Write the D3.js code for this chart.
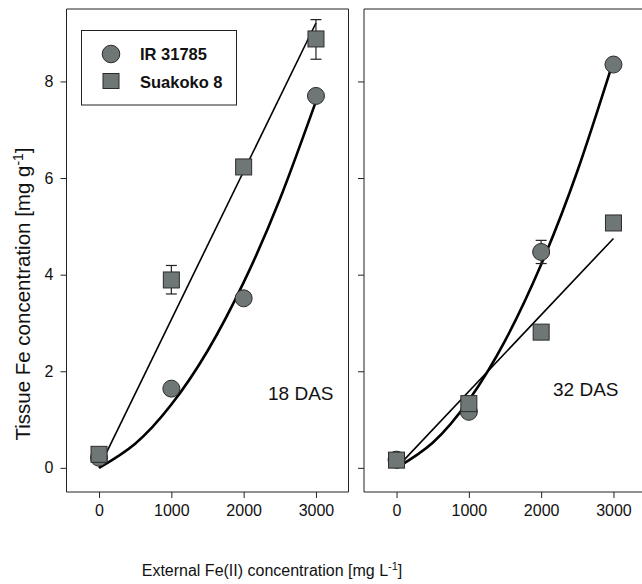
<!DOCTYPE html>
<meta charset="utf-8">
<style>
    body { margin: 0; background: #fff; }
    .container { width: 642px; height: 584px; }
    text { font-family: "Liberation Sans", Arial, sans-serif; fill: #111; }
</style>
<body>
<div class="container"></div>
<script src="https://cdn.jsdelivr.net/npm/d3@7"></script>
<script>

// x positions of the measurements (mg L-1)
const doses = [0, 1000, 2000, 3000];

// 18 DAS
const ir18 = [0.21, 1.64, 3.51, 7.70];
const su18 = [0.28, 3.89, 6.23, 8.88];
const su18Err = [null, [3.60, 4.19], null, [8.46, 9.28]];

// 32 DAS
const ir32 = [0.17, 1.16, 4.47, 8.35];
const ir32Err = [null, null, [4.23, 4.71], null];
const su32 = [0.16, 1.33, 2.81, 5.07];
const su32Err = [null, null, null, null];

// fitted curves
const fitX = [0, 500, 1000, 1500, 2000, 2500, 3000];
const irFit18 = [0, 0.50, 1.31, 2.42, 3.84, 5.56, 7.59];
const irFit32 = [0, 0.52, 1.40, 2.63, 4.21, 6.14, 8.43];
const suFit18 = [0, 9.21];   // straight line, x = 0 and 3000
const suFit32 = [0, 4.75];

const xTicks = [0, 1000, 2000, 3000];
const yTicks = [0, 2, 4, 6, 8];

const width = 642, height = 584;
const markFill = '#6e7676', markStroke = '#2b2b2b';

const svg = d3.select('.container')
    .append('svg')
    .attr('width', width)
    .attr('height', height);

const y = d3.scaleLinear().domain([-0.5, 9.5]).range([492, 9]);

const panels = [
    { left: 66.5, label: '18 DAS', labelX: 268, labelY: 400, ir: ir18, su: su18,
      irErr: [null, null, null, null], suErr: su18Err, irFit: irFit18, suFit: suFit18, yLabels: true, rightFrame: true },
    { left: 364, label: '32 DAS', labelX: 553, labelY: 396, ir: ir32, su: su32,
      irErr: ir32Err, suErr: su32Err, irFit: irFit32, suFit: suFit32, yLabels: false, rightFrame: false }
];

panels.forEach(p => {
    const x = d3.scaleLinear().domain([-450, 3450]).range([p.left, p.left + 282]);
    const g = svg.append('g');

    // x axis
    const xAxis = g.append('g')
        .attr('transform', `translate(0,${y.range()[0]})`)
        .call(d3.axisBottom(x).tickValues(xTicks).tickFormat(d3.format('d'))
              .tickSize(6).tickPadding(7).tickSizeOuter(0));
    xAxis.select('.domain').remove();
    xAxis.selectAll('text').style('font-size', '16px').attr('fill', '#111');
    xAxis.selectAll('line').attr('stroke', '#222');

    // y axis
    const yAxis = g.append('g')
        .attr('transform', `translate(${p.left},0)`)
        .call(d3.axisLeft(y).tickValues(yTicks).tickSize(6).tickPadding(7)
              .tickFormat(p.yLabels ? d3.format('d') : ''));
    yAxis.select('.domain').remove();
    yAxis.selectAll('text').style('font-size', '16px').attr('fill', '#111');
    yAxis.selectAll('line').attr('stroke', '#222');

    // frame
    const x0 = p.left, x1 = p.left + 282, yt = y.range()[1], yb = y.range()[0];
    g.append('path')
        .attr('d', p.rightFrame
            ? `M${x0},${yt}H${x1}V${yb}H${x0}Z`
            : `M${x1},${yt}H${x0}V${yb}H${x1}`)
        .attr('fill', 'none')
        .attr('stroke', '#222')
        .attr('stroke-width', 1);

    // fitted lines
    g.append('path')
        .datum([[0, p.suFit[0]], [3000, p.suFit[1]]])
        .attr('d', d3.line().x(d => x(d[0])).y(d => y(d[1])))
        .attr('fill', 'none')
        .attr('stroke', '#000')
        .attr('stroke-width', 1.6);

    g.append('path')
        .datum(fitX.map((v, i) => [v, p.irFit[i]]))
        .attr('d', d3.line().x(d => x(d[0])).y(d => y(d[1])).curve(d3.curveNatural))
        .attr('fill', 'none')
        .attr('stroke', '#000')
        .attr('stroke-width', 2.6);

    // error bars
    const drawErr = errs => {
        errs.forEach((e, i) => {
            if (!e) return;
            const cx = x(doses[i]);
            const eg = g.append('g').attr('stroke', '#222').attr('stroke-width', 1.2);
            eg.append('line').attr('x1', cx).attr('x2', cx).attr('y1', y(e[0])).attr('y2', y(e[1]));
            e.forEach(v => eg.append('line').attr('x1', cx - 5.5).attr('x2', cx + 5.5).attr('y1', y(v)).attr('y2', y(v)));
        });
    };
    drawErr(p.irErr);
    drawErr(p.suErr);

    // markers
    g.selectAll('circle.ir')
        .data(p.ir)
        .enter()
        .append('circle')
        .attr('class', 'ir')
        .attr('cx', (d, i) => x(doses[i]))
        .attr('cy', d => y(d))
        .attr('r', 8.5)
        .attr('fill', markFill)
        .attr('stroke', markStroke)
        .attr('stroke-width', 1);

    g.selectAll('rect.su')
        .data(p.su)
        .enter()
        .append('rect')
        .attr('class', 'su')
        .attr('x', (d, i) => x(doses[i]) - 8)
        .attr('y', d => y(d) - 8)
        .attr('width', 16)
        .attr('height', 16)
        .attr('fill', markFill)
        .attr('stroke', markStroke)
        .attr('stroke-width', 1);

    g.append('text')
        .attr('x', p.labelX)
        .attr('y', p.labelY)
        .style('font-size', '19px')
        .text(p.label);
});

// legend
const leg = svg.append('g');
leg.append('rect')
    .attr('x', 81.5).attr('y', 30.5).attr('width', 155).attr('height', 74.5)
    .attr('fill', '#fff').attr('stroke', '#222').attr('stroke-width', 1);
leg.append('circle')
    .attr('cx', 111).attr('cy', 54).attr('r', 8.8)
    .attr('fill', markFill).attr('stroke', markStroke);
leg.append('rect')
    .attr('x', 103).attr('y', 73.5).attr('width', 16).attr('height', 15)
    .attr('fill', markFill).attr('stroke', markStroke);
leg.append('text').attr('x', 140).attr('y', 59.5)
    .style('font-size', '16.5px').style('font-weight', 'bold').text('IR 31785');
leg.append('text').attr('x', 140).attr('y', 87.5)
    .style('font-size', '16.5px').style('font-weight', 'bold').text('Suakoko 8');

// axis titles
const xt = svg.append('text')
    .attr('x', 272).attr('y', 576)
    .attr('text-anchor', 'middle')
    .style('font-size', '16px');
xt.append('tspan').text('External Fe(II) concentration [mg L');
xt.append('tspan').attr('dy', -6).style('font-size', '11px').text('-1');
xt.append('tspan').attr('dy', 6).text(']');

const yt = svg.append('text')
    .attr('transform', 'translate(30,294) rotate(-90)')
    .attr('text-anchor', 'middle')
    .style('font-size', '20.5px');
yt.append('tspan').text('Tissue Fe concentration [mg g');
yt.append('tspan').attr('dy', -7.5).style('font-size', '14px').text('-1');
yt.append('tspan').attr('dy', 7.5).text(']');

</script>
</body>
